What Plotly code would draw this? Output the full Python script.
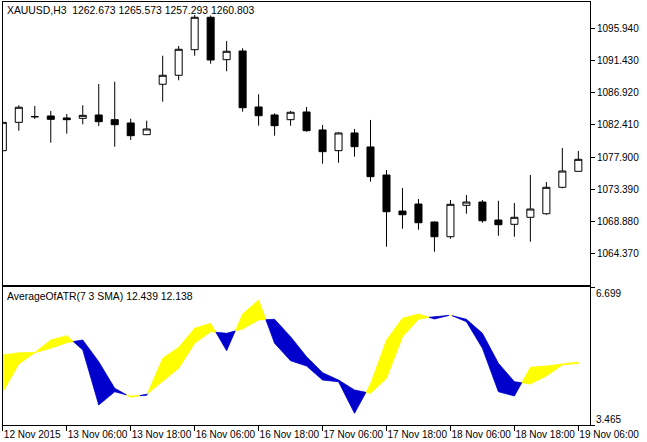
import plotly.graph_objects as go

# ---------------- data ----------------
bars = list(range(37))
opens = [1078.80, 1082.77, 1083.56, 1083.66, 1083.38, 1083.33, 1083.80, 1083.14, 1082.68, 1081.04,
         1088.10, 1089.36, 1092.94, 1097.48, 1091.54, 1092.76, 1084.92, 1083.80, 1083.14, 1084.22,
         1081.70, 1078.80, 1081.28, 1079.32, 1075.39, 1070.35, 1071.33, 1068.81, 1066.75, 1071.15,
         1071.61, 1069.09, 1068.49, 1069.47, 1069.97, 1073.67, 1075.91]
highs = [1082.77, 1085.16, 1085.06, 1084.36, 1083.94, 1085.16, 1088.14, 1088.46, 1083.28, 1083.00,
         1092.10, 1093.46, 1097.80, 1097.73, 1094.16, 1093.14, 1086.70, 1084.03, 1084.36, 1084.92,
         1082.40, 1081.38, 1081.84, 1083.10, 1076.09, 1073.57, 1072.03, 1068.90, 1071.89, 1072.59,
         1071.89, 1071.79, 1071.47, 1075.39, 1074.41, 1079.17, 1078.76]
lows = [1078.80, 1081.60, 1083.24, 1079.92, 1081.18, 1082.50, 1082.26, 1079.36, 1080.30, 1081.04,
        1085.66, 1088.66, 1092.10, 1090.98, 1089.92, 1084.26, 1082.30, 1080.90, 1082.30, 1081.46,
        1076.98, 1077.12, 1077.96, 1074.46, 1065.35, 1067.87, 1067.73, 1064.65, 1066.47, 1069.97,
        1068.71, 1066.89, 1066.75, 1066.05, 1069.83, 1073.53, 1075.91]
closes = [1082.77, 1084.88, 1083.56, 1083.19, 1083.14, 1083.75, 1082.86, 1082.44, 1080.90, 1081.84,
          1089.36, 1093.00, 1097.48, 1091.50, 1092.72, 1084.82, 1083.70, 1082.30, 1084.18, 1081.60,
          1078.66, 1081.28, 1079.36, 1075.16, 1070.25, 1069.83, 1068.71, 1066.75, 1071.29, 1071.61,
          1068.99, 1068.43, 1069.47, 1070.63, 1073.67, 1075.95, 1077.59]

atr_fast = [5.105, 5.159, 5.165, 5.457, 5.558, 5.223, 3.934, 4.245, 4.145, 4.161,
            5.028, 5.286, 5.731, 5.848, 5.206, 6.066, 6.394, 5.380, 4.972, 4.848,
            4.519, 4.480, 3.739, 4.426, 5.457, 5.965, 6.066, 5.949, 6.043, 5.886,
            5.262, 4.245, 4.145, 4.817, 4.848, 4.895, 4.941]
atr_slow = [4.245, 4.895, 5.160, 5.262, 5.394, 5.457, 4.948, 4.325, 4.114, 4.184,
            4.480, 4.794, 5.380, 5.651, 5.614, 5.715, 5.926, 5.942, 5.534, 5.066,
            4.691, 4.519, 4.285, 4.208, 4.559, 5.534, 5.942, 6.012, 6.036, 5.942,
            5.614, 4.911, 4.480, 4.426, 4.613, 4.871, 4.911]

time_tick_bars = [0, 4, 8, 12, 16, 20, 24, 28, 32, 36]
time_tick_labels = ["12 Nov 2015", "13 Nov 06:00", "13 Nov 18:00", "16 Nov 06:00", "16 Nov 18:00",
                    "17 Nov 06:00", "17 Nov 18:00", "18 Nov 06:00", "18 Nov 18:00", "19 Nov 06:00"]
price_ticks = [1064.37, 1068.88, 1073.39, 1077.90, 1082.41, 1086.92, 1091.43, 1095.94]
ind_ticks = [3.465, 6.699]
header_text = "XAUUSD,H3  1262.673 1265.573 1257.293 1260.803"
ind_text = "AverageOfATR(7 3 SMA) 12.439 12.138"

# ---------------- layout constants ----------------
W, H = 647, 442
FONT = "Liberation Sans"
px_x = lambda p: p / W
px_y = lambda p: 1 - p / H
x_dom = [px_x(2.5), px_x(590)]
top_dom = [px_y(285), px_y(2)]
bot_dom = [px_y(425), px_y(287)]
x_range = [-0.02, 36.73]

fig = go.Figure()

fig.add_trace(go.Candlestick(
    x=bars, open=opens, high=highs, low=lows, close=closes,
    increasing=dict(fillcolor="white", line=dict(color="black", width=1)),
    decreasing=dict(fillcolor="black", line=dict(color="black", width=1)),
    whiskerwidth=0, xaxis="x", yaxis="y", hoverinfo="skip"))

# ---- filling between the two indicator lines (split at crossings) ----
pts = [(bars[0], atr_fast[0], atr_slow[0], False)]
for i in range(len(bars) - 1):
    d0 = atr_fast[i] - atr_slow[i]
    d1 = atr_fast[i + 1] - atr_slow[i + 1]
    if d0 * d1 < 0:
        t = d0 / (d0 - d1)
        xc = bars[i] + t * (bars[i + 1] - bars[i])
        yc = atr_fast[i] + t * (atr_fast[i + 1] - atr_fast[i])
        pts.append((xc, yc, yc, True))
    pts.append((bars[i + 1], atr_fast[i + 1], atr_slow[i + 1], False))

runs = []
cur = [pts[0]]
for p in pts[1:]:
    cur.append(p)
    if p[3]:
        runs.append(cur)
        cur = [p]
runs.append(cur)

polys = {"up": ([], []), "dn": ([], [])}
for r in runs:
    diffs = [q[1] - q[2] for q in r if not q[3]]
    key = "up" if sum(diffs) >= 0 else "dn"
    xs = [q[0] for q in r] + [q[0] for q in reversed(r)]
    ys = [q[1] for q in r] + [q[2] for q in reversed(r)]
    polys[key][0].extend(xs + [xs[0], None])
    polys[key][1].extend(ys + [ys[0], None])

for key, col in (("up", "#FFFF00"), ("dn", "#0000CD")):
    fig.add_trace(go.Scatter(
        x=polys[key][0], y=polys[key][1], mode="lines", fill="toself",
        fillcolor=col, line=dict(color=col, width=0.8), xaxis="x2", yaxis="y2",
        hoverinfo="skip", connectgaps=False))

axis_common = dict(showgrid=False, zeroline=False, showline=True, mirror=True,
                   linecolor="black", linewidth=1, tickcolor="black", tickwidth=1,
                   automargin=False, tickangle=0)

fig.update_layout(
    width=W, height=H, margin=dict(l=0, r=0, t=0, b=0),
    paper_bgcolor="white", plot_bgcolor="white", showlegend=False,
    boxgap=0.37,
    font=dict(family=FONT, size=10, color="black"),
    xaxis=dict(domain=x_dom, range=x_range, anchor="y", showticklabels=False, ticks="",
               rangeslider=dict(visible=False), **axis_common),
    yaxis=dict(domain=top_dom, range=[1059.99, 1099.62], anchor="x", side="right",
               tickvals=price_ticks, ticktext=[f"{v:.3f}" for v in price_ticks],
               ticks="outside", ticklen=4, **axis_common),
    xaxis2=dict(domain=x_dom, range=x_range, anchor="y2", tickvals=time_tick_bars,
                ticktext=time_tick_labels, ticks="outside", ticklen=5,
                ticklabelposition="outside right", **axis_common),
    yaxis2=dict(domain=bot_dom, range=ind_ticks, anchor="x2", side="right",
                tickvals=ind_ticks, showticklabels=False, ticks="outside", ticklen=4,
                **axis_common),
)

fig.add_annotation(text=header_text, xref="paper", yref="paper", x=px_x(5), y=px_y(10),
                   xanchor="left", yanchor="middle", showarrow=False, font=dict(size=10.4))
fig.add_annotation(text=ind_text, xref="paper", yref="paper", x=px_x(5), y=px_y(296),
                   xanchor="left", yanchor="middle", showarrow=False, font=dict(size=10.4))
fig.add_annotation(text=f"{ind_ticks[1]:.3f}", xref="paper", yref="paper", x=px_x(594), y=px_y(293),
                   xanchor="left", yanchor="middle", showarrow=False, font=dict(size=10))
fig.add_annotation(text=f"{ind_ticks[0]:.3f}", xref="paper", yref="paper", x=px_x(594), y=px_y(419),
                   xanchor="left", yanchor="middle", showarrow=False, font=dict(size=10))

fig.write_html("out.html", config={"displayModeBar": False},
               post_script="document.body.style.margin='0px';document.body.style.overflow='hidden';")
